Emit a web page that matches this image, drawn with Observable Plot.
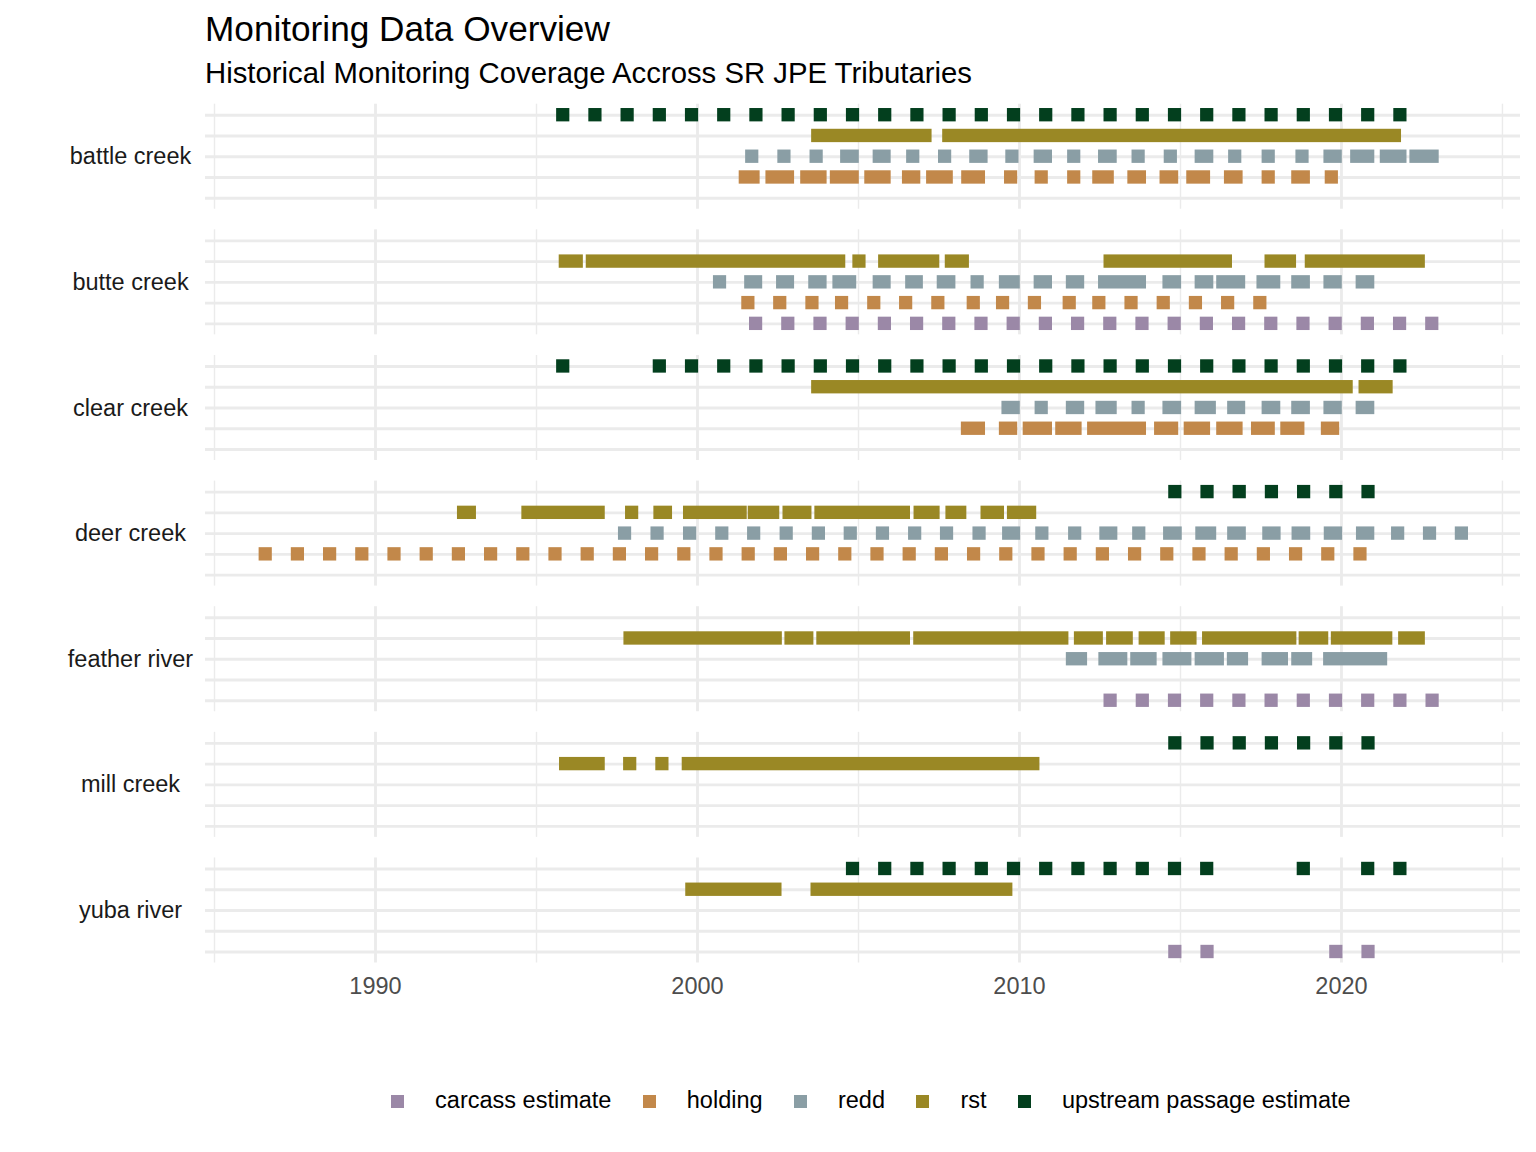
<!DOCTYPE html>
<html><head><meta charset="utf-8">
<script src="https://cdn.jsdelivr.net/npm/d3@7"></script>
<script src="https://cdn.jsdelivr.net/npm/@observablehq/plot@0.6"></script>
<style>
html,body{margin:0;padding:0;background:#fff;}
#wrap{position:relative;width:1536px;height:1152px;font-family:"Liberation Sans",Arial,sans-serif;overflow:hidden;}
#title{position:absolute;left:205px;top:10.8px;font-size:35.2px;line-height:1;color:#000;white-space:nowrap;}
#subtitle{position:absolute;left:205px;top:57.7px;font-size:29.3px;line-height:1;color:#000;white-space:nowrap;}
#chart{position:absolute;left:0;top:0;}
#legend{position:absolute;left:205px;width:1315px;top:1086px;height:30px;display:flex;justify-content:center;align-items:center;font-size:23.5px;color:#000;}
.item{display:flex;align-items:center;}
.key{width:46px;height:30px;display:flex;align-items:center;justify-content:center;}
.sw{width:13px;height:13px;}
.lab{margin-left:14.7px;line-height:1;white-space:nowrap;}
.item+.item{margin-left:14.7px;}
</style></head>
<body>
<div id="wrap">
  <div id="title">Monitoring Data Overview</div>
  <div id="subtitle">Historical Monitoring Coverage Accross SR JPE Tributaries</div>
  <div id="chart"></div>
  <div id="legend"></div>
</div>
<script>
const rivers = ["battle creek","butte creek","clear creek","deer creek","feather river","mill creek","yuba river"];
const rowTypes = ["upstream passage estimate","rst","redd","holding","carcass estimate"];
const legendTypes = ["carcass estimate","holding","redd","rst","upstream passage estimate"];
const typeColors = ["#9B88A7","#C2884A","#8A9EA5","#9A8825","#033F1E"];
const xTicks = [1990, 2000, 2010, 2020];
const xMinorTicks = [1985, 1995, 2005, 2015, 2025];

// each value: a single survey date (decimal year) or a [start, end] run of dates
const battleUpstream = [1995.83,1996.83,1997.83,1998.83,1999.83,2000.83,2001.83,2002.83,2003.83,2004.83,2005.83,2006.83,2007.83,2008.83,2009.83,2010.83,2011.83,2012.83,2013.83,2014.83,2015.83,2016.83,2017.83,2018.83,2019.83,2020.83,2021.83];
const battleRst = [[2003.75,2007.08],[2007.82,2021.66]];
const battleRedd = [2001.70,2002.70,2003.70,[2004.65,2004.82],[2005.66,2005.81],2006.70,2007.69,[2008.66,2008.82],2009.78,[2010.66,2010.82],2011.70,[2012.66,2012.83],2013.70,2014.70,[2015.66,2015.83],2016.70,2017.74,2018.79,[2019.66,2019.82],[2020.49,2020.83],[2021.41,2021.83],[2022.33,2022.83]];
const battleHolding = [[2001.50,2001.74],[2002.33,2002.81],[2003.41,2003.82],[2004.33,2004.82],[2005.40,2005.81],[2006.57,2006.73],[2007.32,2007.74],[2008.41,2008.74],2009.74,2010.69,2011.70,[2012.48,2012.74],[2013.57,2013.74],[2014.57,2014.74],[2015.40,2015.73],[2016.57,2016.74],2017.74,[2018.66,2018.83],2019.70];

const butteRst = [[1995.91,1996.25],[1996.75,2004.40],2005.03,[2005.83,2007.32],[2007.90,2008.24],[2012.83,2016.41],[2017.83,2018.40],[2019.08,2022.40]];
const butteRedd = [2000.70,[2001.67,2001.82],[2002.66,2002.81],[2003.66,2003.82],[2004.41,2004.74],[2005.66,2005.81],[2006.67,2006.81],[2007.65,2007.82],2008.70,[2009.58,2009.82],[2010.66,2010.82],[2011.66,2011.82],[2012.66,2013.74],[2014.66,2014.83],[2015.66,2015.83],[2016.33,2016.82],[2017.58,2017.91],[2018.66,2018.83],[2019.66,2019.82],[2020.66,2020.83]];
const butteHolding = [2001.58,2002.57,2003.57,2004.49,2005.49,2006.48,2007.48,2008.58,2009.49,2010.48,2011.56,2012.48,2013.48,2014.48,2015.48,2016.48,2017.48];
const butteCarcass = [2001.82,2002.82,2003.82,2004.82,2005.82,2006.82,2007.82,2008.82,2009.82,2010.82,2011.82,2012.82,2013.82,2014.82,2015.82,2016.82,2017.82,2018.82,2019.82,2020.82,2021.82,2022.82];

const clearUpstream = [1995.83,1998.83,1999.83,2000.83,2001.83,2002.83,2003.83,2004.83,2005.83,2006.83,2007.83,2008.83,2009.83,2010.83,2011.83,2012.83,2013.83,2014.83,2015.83,2016.83,2017.83,2018.83,2019.83,2020.83,2021.83];
const clearRst = [[2003.75,2020.16],[2020.75,2021.40]];
const clearRedd = [[2009.66,2009.82],2010.69,[2011.66,2011.82],[2012.58,2012.83],2013.70,[2014.66,2014.83],[2015.66,2015.91],[2016.67,2016.82],[2017.74,2017.91],[2018.66,2018.83],[2019.66,2019.82],[2020.66,2020.83]];
const clearHolding = [[2008.40,2008.74],[2009.58,2009.74],[2010.32,2010.82],[2011.33,2011.74],[2012.32,2013.74],[2014.40,2014.74],[2015.32,2015.73],[2016.33,2016.74],[2017.41,2017.74],[2018.32,2018.66],[2019.58,2019.74]];

const deerUpstream = [2014.84,2015.84,2016.84,2017.84,2018.84,2019.84,2020.84];
const deerRst = [[1992.75,1992.93],[1994.75,1996.93],1997.97,[1998.85,1999.02],[1999.77,2001.34],[2001.78,2002.35],[2002.86,2003.35],[2003.85,2006.41],[2006.93,2007.33],[2007.92,2008.16],[2009.01,2009.33],[2009.83,2010.33]];
const deerRedd = [1997.75,1998.76,1999.77,2000.77,2001.76,2002.77,2003.77,2004.76,2005.76,2006.76,2007.75,2008.76,[2009.68,2009.83],2010.71,2011.73,[2012.70,2012.85],2013.72,[2014.68,2014.85],[2015.68,2015.92],[2016.67,2016.84],[2017.76,2017.92],[2018.67,2018.84],[2019.67,2019.83],[2020.67,2020.83],2021.76,2022.75,2023.74];
const deerHolding = [1986.59,1987.59,1988.59,1989.59,1990.59,1991.59,1992.59,1993.59,1994.59,1995.59,1996.59,1997.59,1998.59,1999.59,2000.59,2001.59,2002.59,2003.59,2004.59,2005.59,2006.59,2007.59,2008.59,2009.59,2010.59,2011.59,2012.59,2013.59,2014.59,2015.59,2016.59,2017.59,2018.59,2019.59,2020.59];

const featherRst = [[1997.92,2002.43],[2002.92,2003.41],[2003.91,2006.41],[2006.92,2011.33],[2011.91,2012.40],[2012.91,2013.33],[2013.92,2014.32],[2014.90,2015.31],[2015.89,2018.41],[2018.89,2019.40],[2019.89,2021.39],[2021.98,2022.40]];
const featherRedd = [[2011.66,2011.91],[2012.67,2013.16],[2013.66,2014.07],[2014.66,2015.15],[2015.66,2016.16],[2016.66,2016.91],[2017.74,2018.15],[2018.66,2018.90],[2019.65,2021.23]];
const featherCarcass = [2012.83,2013.83,2014.83,2015.83,2016.83,2017.83,2018.83,2019.83,2020.83,2021.83,2022.83];

const millUpstream = [2014.84,2015.84,2016.84,2017.84,2018.84,2019.84,2020.84];
const millRst = [[1995.92,1996.93],1997.91,1998.91,[1999.73,2010.43]];

const yubaUpstream = [2004.83,2005.83,2006.83,2007.83,2008.83,2009.83,2010.83,2011.83,2012.83,2013.83,2014.83,2015.83,2018.83,2020.83,2021.83];
const yubaRst = [[1999.84,2002.42],[2003.73,2009.59]];
const yubaCarcass = [2014.84,2015.84,2019.84,2020.84];

const series = [
  ["battle creek","upstream passage estimate",battleUpstream],
  ["battle creek","rst",battleRst],
  ["battle creek","redd",battleRedd],
  ["battle creek","holding",battleHolding],
  ["butte creek","rst",butteRst],
  ["butte creek","redd",butteRedd],
  ["butte creek","holding",butteHolding],
  ["butte creek","carcass estimate",butteCarcass],
  ["clear creek","upstream passage estimate",clearUpstream],
  ["clear creek","rst",clearRst],
  ["clear creek","redd",clearRedd],
  ["clear creek","holding",clearHolding],
  ["deer creek","upstream passage estimate",deerUpstream],
  ["deer creek","rst",deerRst],
  ["deer creek","redd",deerRedd],
  ["deer creek","holding",deerHolding],
  ["feather river","rst",featherRst],
  ["feather river","redd",featherRedd],
  ["feather river","carcass estimate",featherCarcass],
  ["mill creek","upstream passage estimate",millUpstream],
  ["mill creek","rst",millRst],
  ["yuba river","upstream passage estimate",yubaUpstream],
  ["yuba river","rst",yubaRst],
  ["yuba river","carcass estimate",yubaCarcass]
];
const spans = series.flatMap(([river, type, vals]) =>
  vals.map(v => Array.isArray(v) ? {river, type, x1: v[0], x2: v[1]} : {river, type, x1: v, x2: v}));

const gridColor = "#EBEBEB";
const chart = Plot.plot({
  width: 1536,
  height: 1030,
  marginLeft: 205,
  marginRight: 16,
  marginTop: 103.7,
  marginBottom: 67.5,
  style: {fontFamily: "'Liberation Sans', Arial, sans-serif", fontSize: "23.5px", background: "transparent", overflow: "visible"},
  x: {domain: [1984.72, 2025.56], axis: null},
  y: {domain: rowTypes, type: "band", paddingInner: 0, paddingOuter: 0.03, round: false, axis: null},
  fy: {domain: rivers, paddingInner: 0.164, paddingOuter: 0, round: false, axis: null},
  color: {domain: legendTypes, range: typeColors},
  marks: [
    Plot.gridX({ticks: xMinorTicks, stroke: gridColor, strokeOpacity: 1, strokeWidth: 1.42}),
    Plot.gridX({ticks: xTicks, stroke: gridColor, strokeOpacity: 1, strokeWidth: 2.85}),
    Plot.gridY({stroke: gridColor, strokeOpacity: 1, strokeWidth: 2.85}),
    Plot.barX(spans, {x1: "x1", x2: "x2", y: "type", fy: "river", fill: "type",
      insetLeft: -6.6, insetRight: -6.6, insetTop: 3.7, insetBottom: 3.7}),
    Plot.axisX({ticks: xTicks, tickSize: 0, tickPadding: 14, fontSize: 23.5, color: "#4D4D4D",
      label: null, tickFormat: d => String(d)}),
    Plot.text(rivers, {fy: d => d, text: d => d, frameAnchor: "left", dx: -75,
      textAnchor: "middle", fontSize: 23.5, fill: "#1A1A1A"})
  ]
});
document.getElementById("chart").appendChild(chart);

const legend = document.getElementById("legend");
legendTypes.forEach((t, i) => {
  const item = document.createElement("div");
  item.className = "item";
  item.innerHTML = `<div class="key"><div class="sw" style="background:${typeColors[i]}"></div></div><div class="lab">${t}</div>`;
  legend.appendChild(item);
});
</script>
</body></html>
